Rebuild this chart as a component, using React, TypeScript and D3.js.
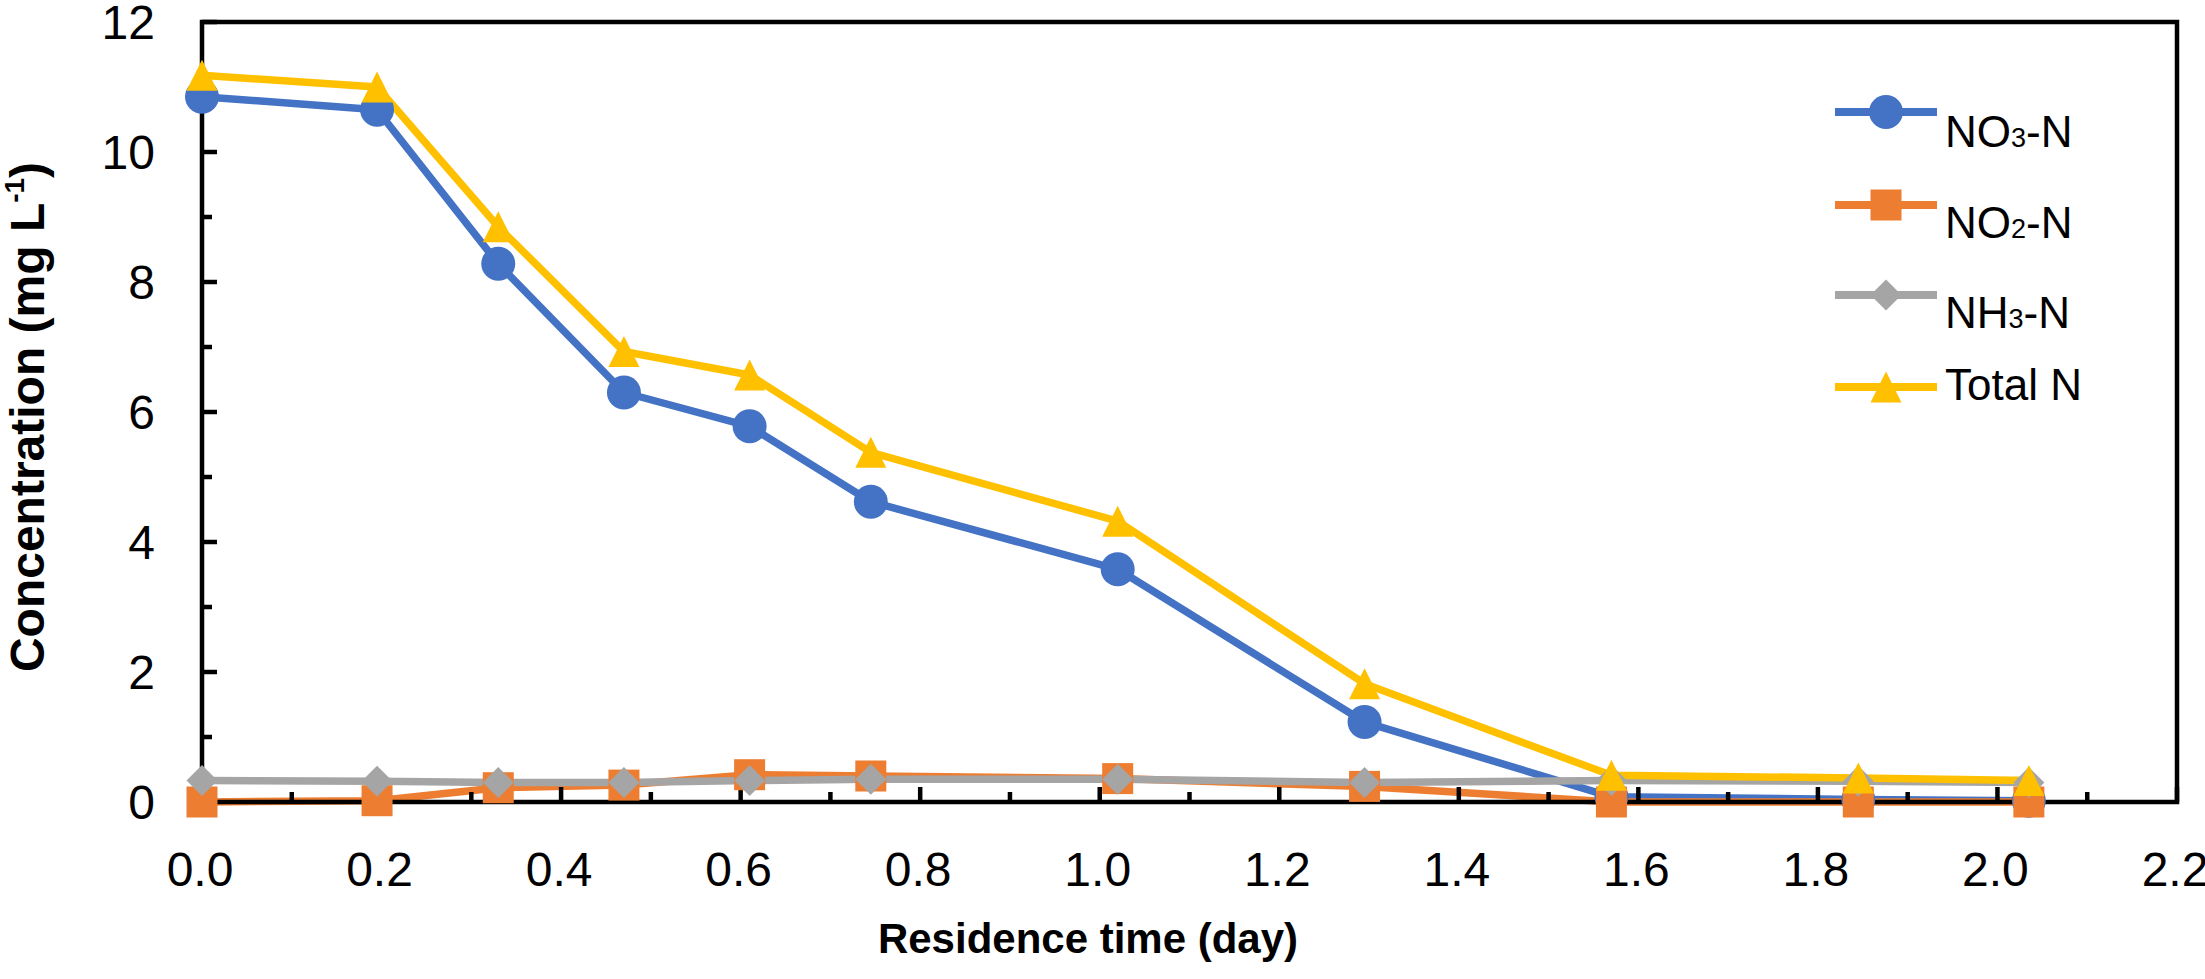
import { useMemo } from 'react';
import * as d3 from 'd3';

// Residence time (day)
const time = [0, 0.195, 0.33, 0.47, 0.61, 0.745, 1.02, 1.295, 1.57, 1.845, 2.035];
// Concentrations (mg L-1)
const no3 = [10.85, 10.65, 8.28, 6.3, 5.78, 4.62, 3.58, 1.23, 0.08, 0.04, 0.02];
const no2 = [0.0, 0.02, 0.22, 0.26, 0.42, 0.4, 0.36, 0.24, 0.0, 0.0, 0.0];
const nh3 = [0.33, 0.32, 0.3, 0.3, 0.33, 0.35, 0.35, 0.3, 0.33, 0.32, 0.3];
const totalN = [11.18, 11.0, 8.85, 6.93, 6.57, 5.38, 4.32, 1.82, 0.41, 0.37, 0.33];

const xMajorTicks = [0, 0.2, 0.4, 0.6, 0.8, 1.0, 1.2, 1.4, 1.6, 1.8, 2.0, 2.2];
const xMinorTicks = [0.1, 0.3, 0.5, 0.7, 0.9, 1.1, 1.3, 1.5, 1.7, 1.9, 2.1];
const yMajorTicks = [0, 2, 4, 6, 8, 10, 12];
const yMinorTicks = [1, 3, 5, 7, 9, 11];

type Shape = 'circle' | 'square' | 'diamond' | 'triangle';

interface Series {
  name: string;
  sub?: string;
  tail?: string;
  values: number[];
  color: string;
  shape: Shape;
}

const series: Series[] = [
  { name: 'NO', sub: '3', tail: '-N', values: no3, color: '#4472C4', shape: 'circle' },
  { name: 'NO', sub: '2', tail: '-N', values: no2, color: '#ED7D31', shape: 'square' },
  { name: 'NH', sub: '3', tail: '-N', values: nh3, color: '#A5A5A5', shape: 'diamond' },
  { name: 'Total N', values: totalN, color: '#FFC000', shape: 'triangle' },
];

const W = 2205;
const H = 979;
const FONT = '"Liberation Sans", Arial, Helvetica, sans-serif';

function markerPath(shape: Shape, s: number): string {
  const h = s / 2;
  switch (shape) {
    case 'circle':
      return d3.symbol(d3.symbolCircle, Math.PI * h * h)() ?? '';
    case 'square':
      return `M${-h},${-h}H${h}V${h}H${-h}Z`;
    case 'diamond':
      return `M0,${-h}L${h},0L0,${h}L${-h},0Z`;
    case 'triangle':
      return `M0,${-h}L${h},${h}L${-h},${h}Z`;
  }
}

function Marker({ shape, color, x, y }: { shape: Shape; color: string; x: number; y: number }) {
  const size = shape === 'circle' ? 34 : 31;
  return <path d={markerPath(shape, size)} transform={`translate(${x},${y})`} fill={color} />;
}

export default function App() {
  const margin = { left: 202, right: W - 2177, top: 22, bottom: H - 802 };

  const x = useMemo(
    () => d3.scaleLinear().domain([0, 2.2]).range([margin.left, W - margin.right]),
    [],
  );
  const y = useMemo(
    () => d3.scaleLinear().domain([0, 12]).range([H - margin.bottom, margin.top]),
    [],
  );

  const line = d3
    .line<number>()
    .x((_, i) => x(time[i]))
    .y((d) => y(d));

  const x0 = x(0);
  const x1 = x(2.2);
  const y0 = y(0);
  const y1 = y(12);

  const legendRows = [112, 205, 295, 387];
  const legendTextDy = [19, 17, 17, -3];

  return (
    <div style={{ position: 'absolute', left: 0, top: 0 }}>
      <svg width={W} height={H} style={{ display: 'block', background: '#fff' }} fontFamily={FONT}>
        {/* series lines */}
        {series.map((s) => (
          <path
            key={`ln${s.name}${s.sub ?? ''}`}
            d={line(s.values) ?? ''}
            fill="none"
            stroke={s.color}
            strokeWidth={7.5}
            strokeLinejoin="round"
          />
        ))}

        {/* plot frame */}
        <rect x={x0} y={y1} width={x1 - x0} height={y0 - y1} fill="none" stroke="#000" strokeWidth={4.5} />

        {/* y ticks */}
        {yMajorTicks.map((t) => (
          <g key={`ym${t}`}>
            <line x1={x0} x2={x0 + 15} y1={y(t)} y2={y(t)} stroke="#000" strokeWidth={4.5} />
            <text x={155} y={Math.max(y(t), 19)} dy="0.36em" textAnchor="end" fontSize={48} fill="#000">
              {t}
            </text>
          </g>
        ))}
        {yMinorTicks.map((t) => (
          <line key={`yn${t}`} x1={x0} x2={x0 + 10} y1={y(t)} y2={y(t)} stroke="#000" strokeWidth={4.5} />
        ))}

        {/* x ticks */}
        {xMajorTicks.map((t) => (
          <g key={`xm${t}`}>
            <line x1={x(t)} x2={x(t)} y1={y0} y2={y0 - 15} stroke="#000" strokeWidth={4.5} />
            <text x={x(t) - 2} y={y0 + 84} textAnchor="middle" fontSize={48} fill="#000">
              {d3.format('.1f')(t)}
            </text>
          </g>
        ))}
        {xMinorTicks.map((t) => (
          <line key={`xn${t}`} x1={x(t)} x2={x(t)} y1={y0} y2={y0 - 10} stroke="#000" strokeWidth={4.5} />
        ))}

        {/* markers drawn per series, over the axes */}
        {series.map((s) =>
          s.values.map((v, i) => (
            <Marker key={`${s.name}${s.sub}${i}`} shape={s.shape} color={s.color} x={x(time[i])} y={y(v)} />
          )),
        )}

        {/* axis titles */}
        <text x={1088} y={953} textAnchor="middle" fontSize={42} fontWeight="bold" fill="#000">
          Residence time (day)
        </text>
        <text
          transform={`translate(44,${(y0 + y1) / 2 + 5}) rotate(-90)`}
          textAnchor="middle"
          fontSize={48}
          fontWeight="bold"
          fill="#000"
        >
          Concentration (mg L
          <tspan fontSize={28} dy={-20}>
            -1
          </tspan>
          <tspan dy={20}>)</tspan>
        </text>

        {/* legend */}
        {series.map((s, i) => (
          <g key={`lg${i}`}>
            <line x1={1835} x2={1937} y1={legendRows[i]} y2={legendRows[i]} stroke={s.color} strokeWidth={8} />
            <Marker shape={s.shape} color={s.color} x={1886} y={legendRows[i]} />
            <text x={1945} y={legendRows[i] + legendTextDy[i]} dy="0.36em" fontSize={44} fill="#000">
              {s.name}
              {s.sub && <tspan fontSize={27}>{s.sub}</tspan>}
              {s.tail}
            </text>
          </g>
        ))}
      </svg>
    </div>
  );
}
